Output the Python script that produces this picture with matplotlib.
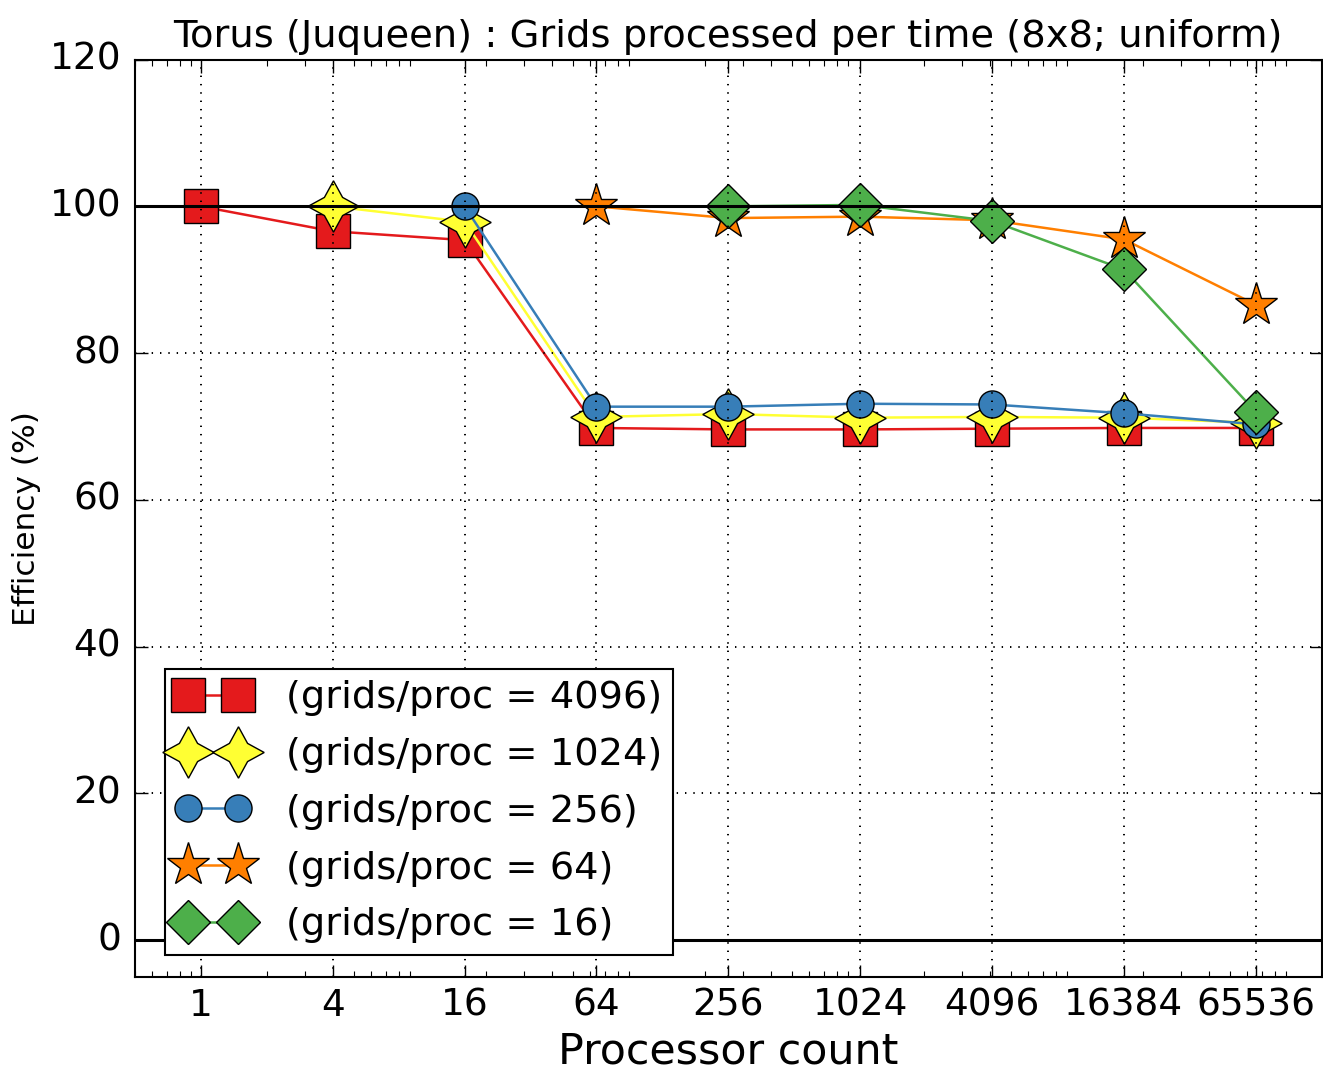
import matplotlib
matplotlib.use("Agg")
import matplotlib.pyplot as plt
from matplotlib.ticker import FixedLocator, FixedFormatter

plt.style.use("classic")

# processor counts
procs = [1, 4, 16, 64, 256, 1024, 4096, 16384, 65536]
tick_labels = ["1", "4", "16", "64", "256", "1024", "4096", "16384", "65536"]

# efficiency (%) per grids/proc setting
eff_4096 = [100.0, 96.6, 95.4, 69.8, 69.6, 69.6, 69.7, 69.8, 69.8]
eff_1024 = [100.0, 97.9, 71.3, 71.7, 71.2, 71.3, 71.2, 70.5]
eff_256 = [100.0, 72.7, 72.7, 73.1, 73.0, 71.8, 70.3]
eff_64 = [100.0, 98.4, 98.6, 98.1, 95.5, 86.6]
eff_16 = [100.0, 100.2, 98.0, 91.4, 72.0]

series = [
    ("(grids/proc = 4096)", eff_4096, "#e41a1c", "s", 25),
    ("(grids/proc = 1024)", eff_1024, "#ffff33", (4, 1, 0), 37),
    ("(grids/proc = 256)", eff_256, "#377eb8", "o", 19.5),
    ("(grids/proc = 64)", eff_64, "#ff7f00", "*", 32.5),
    ("(grids/proc = 16)", eff_16, "#4daf4a", "D", 22.5),
]

fig = plt.figure(figsize=(13.23, 10.74), dpi=100, facecolor="white")
ax = fig.add_axes([0.102, 0.0905, 0.897, 0.854])

for label, vals, color, marker, ms in series:
    x = procs[len(procs) - len(vals):]
    ax.plot(x, vals, color=color, lw=1.8, marker=marker, ms=ms,
            mfc=color, mec="black", mew=1.0, label=label)

ax.axhline(100, color="black", lw=2.2, zorder=3)
ax.axhline(0, color="black", lw=2.2, zorder=3)

ax.set_xscale("log")
ax.set_xlim(0.5, 131072)
ax.set_ylim(-5, 120)
ax.xaxis.set_major_locator(FixedLocator(procs))
ax.xaxis.set_major_formatter(FixedFormatter(tick_labels))
ax.set_yticks([0, 20, 40, 60, 80, 100, 120])

ax.grid(True, which="major", color="black", linestyle=(0, (1, 5)), lw=1.4)
ax.tick_params(which="major", labelsize=27, length=9, width=1)
ax.tick_params(axis="y", pad=10)
ax.tick_params(axis="x", pad=8)
ax.tick_params(which="minor", length=4.5, width=0.8)
for sp in ax.spines.values():
    sp.set_linewidth(1.5)

ax.set_title("Torus (Juqueen) : Grids processed per time (8x8; uniform)",
             fontsize=27.7, pad=9)
ax.set_xlabel("Processor count", fontsize=30.8, labelpad=5)
ax.set_ylabel("Efficiency (%)", fontsize=22.5, labelpad=6)

leg = ax.legend(loc="lower left", bbox_to_anchor=(0.0253, 0.024),
                borderaxespad=0, numpoints=2, fontsize=27.6,
                handlelength=1.9, labelspacing=0.54, borderpad=0.3,
                handletextpad=0.95, fancybox=False)
leg.get_frame().set_linewidth(1.5)
leg.get_frame().set_edgecolor("black")

fig.savefig("out.png", dpi=100, facecolor="white")
